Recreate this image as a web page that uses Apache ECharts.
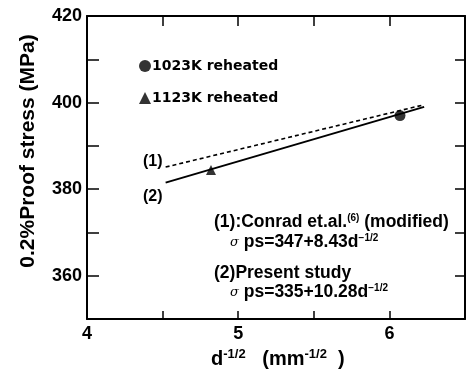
<!DOCTYPE html>
<html>
<head>
<meta charset="utf-8">
<script src="https://cdn.jsdelivr.net/npm/echarts@6/dist/echarts.min.js"></script>
</head>
<body style="margin:0;background:#fff">
<div id="chart" style="width:471px;height:378px;position:absolute;left:0;top:0"></div>
<div id="notes" style="width:471px;height:378px;position:absolute;left:0;top:0"></div>
<script>
// data
var xTicks = [4, 5, 6];
var yTicks = [360, 380, 400, 420];
var reheated1023 = [[6.07, 397.0]];
var reheated1123 = [[4.82, 384.4]];
// (1) Conrad et.al. (modified): sigma = 347 + 8.43 d^-1/2
var conradLine = [[4.52, 385.1], [6.23, 399.5]];
// (2) Present study: sigma = 335 + 10.28 d^-1/2
var presentLine = [[4.52, 381.5], [6.23, 399.0]];

var bold = 'Liberation Sans';
var wide = 'DejaVu Sans';

function axisBase() {
  return {
    type: 'value',
    axisLine: { show: true, lineStyle: { color: '#000', width: 2 } },
    axisTick: { show: true, inside: true, length: 10, lineStyle: { color: '#000', width: 1.5 } },
    splitLine: { show: false }
  };
}

var xBottom = axisBase();
xBottom.min = 4; xBottom.max = 6.5; xBottom.interval = 0.5; xBottom.position = 'bottom';
xBottom.axisTick.length = 8;
xBottom.axisLabel = {
  color: '#000', fontFamily: bold, fontWeight: 'bold', fontSize: 18, margin: 6,
  formatter: function (v) { return v % 1 === 0 ? String(v) : ''; }
};

var xTop = axisBase();
xTop.min = 4; xTop.max = 6.5; xTop.interval = 0.5; xTop.position = 'top';
xTop.axisLabel = { show: false };

var yLeft = axisBase();
yLeft.min = 350; yLeft.max = 420; yLeft.interval = 10; yLeft.position = 'left';
yLeft.axisTick.length = 12;
yLeft.axisLabel = {
  color: '#000', fontFamily: bold, fontWeight: 'bold', fontSize: 18, margin: 5,
  formatter: function (v) { return v % 20 === 0 ? String(v) : ''; }
};

var yRight = axisBase();
yRight.min = 350; yRight.max = 420; yRight.interval = 10; yRight.position = 'right';
yRight.axisLabel = { show: false };

// chart layer: axes, lines, points, legend
var chart = echarts.init(document.getElementById('chart'));
chart.setOption({
  animation: false,
  backgroundColor: '#fff',
  grid: { left: 87, right: 6, top: 16, bottom: 59 },
  legend: {
    orient: 'vertical',
    left: 134,
    top: 54,
    itemGap: 18,
    itemWidth: 12,
    itemHeight: 12,
    data: ['1023K reheated', '1123K reheated'],
    textStyle: { color: '#000', fontFamily: wide, fontWeight: 'bold', fontSize: 14, padding: [0, 0, 0, -4] }
  },
  xAxis: [xBottom, xTop],
  yAxis: [yLeft, yRight],
  series: [
    { name: 'Conrad', type: 'line', data: conradLine, symbol: 'none',
      lineStyle: { color: '#000', width: 1.6, type: [4, 3] } },
    { name: 'Present', type: 'line', data: presentLine, symbol: 'none',
      lineStyle: { color: '#000', width: 2 } },
    { name: '1023K reheated', type: 'scatter', data: reheated1023, symbol: 'circle',
      symbolSize: 11, itemStyle: { color: '#000' } },
    { name: '1123K reheated', type: 'scatter', data: reheated1123, symbol: 'triangle',
      symbolSize: 10, itemStyle: { color: '#000' } }
  ]
});

// text layer: axis titles and annotations
var richStyle = {
  b: { fontFamily: bold, fontWeight: 'bold', fontSize: 17.5, color: '#000', lineHeight: 20 },
  sup: { fontFamily: bold, fontWeight: 'bold', fontSize: 10, color: '#000', lineHeight: 20, padding: [0, 0, 9, 0] },
  sg: { fontFamily: 'DejaVu Serif', fontStyle: 'italic', fontSize: 13, color: '#000', lineHeight: 20 }
};

function note(x, y, str) {
  return { type: 'text', left: x, top: y, style: { text: str, rich: richStyle, fill: '#000' } };
}

var notes = echarts.init(document.getElementById('notes'));
notes.setOption({
  animation: false,
  graphic: [
    {
      type: 'text', x: 28, y: 151, rotation: Math.PI / 2,
      style: {
        text: '0.2%Proof stress (MPa)', fill: '#000', fontFamily: bold, fontWeight: 'bold',
        fontSize: 21, align: 'center', verticalAlign: 'middle'
      }
    },
    {
      type: 'text', left: 211, top: 348,
      style: {
        text: '{b|d}{sup|-1/2}{b|   (mm}{sup|-1/2}{b|  )}', rich: {
          b: { fontFamily: bold, fontWeight: 'bold', fontSize: 20, color: '#000', lineHeight: 24 },
          sup: { fontFamily: bold, fontWeight: 'bold', fontSize: 13, color: '#000', lineHeight: 24, padding: [0, 0, 10, 0] }
        }
      }
    },
    { type: 'text', x: 143, y: 162, style: { text: '(1)', fill: '#000', fontFamily: bold, fontWeight: 'bold', fontSize: 16, verticalAlign: 'middle' } },
    { type: 'text', x: 143, y: 197, style: { text: '(2)', fill: '#000', fontFamily: bold, fontWeight: 'bold', fontSize: 16, verticalAlign: 'middle' } },
    note(214, 213, '{b|(1):Conrad et.al.}{sup|(6)}{b| (modified)}'),
    note(230, 233, '{sg|σ}{b| ps=347+8.43d}{sup|−1/2}'),
    note(214, 264, '{b|(2)Present study}'),
    note(230, 283, '{sg|σ}{b| ps=335+10.28d}{sup|−1/2}')
  ]
});
</script>
</body>
</html>
